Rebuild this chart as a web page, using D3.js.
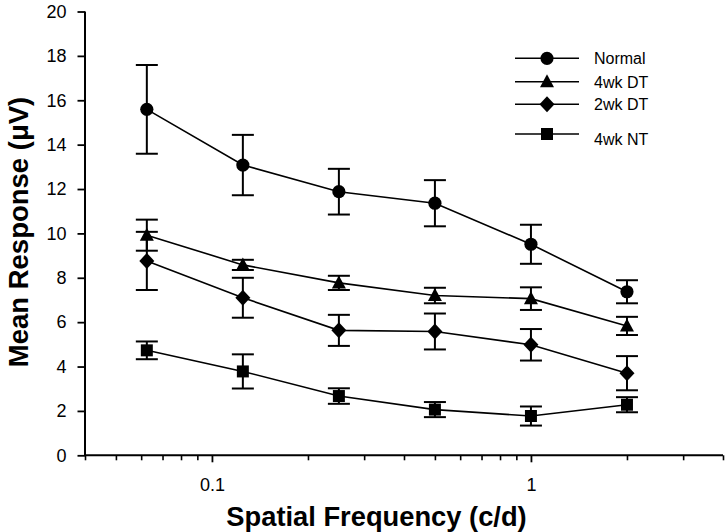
<!DOCTYPE html>
<html>
<head>
<meta charset="utf-8">
<script src="https://cdn.jsdelivr.net/npm/d3@7"></script>
<style>
  html, body { margin: 0; padding: 0; background: #fff; }
  svg { display: block; font-family: "Liberation Sans", Arial, sans-serif; }
</style>
</head>
<body>
<svg id="chart" width="725" height="532"></svg>
<script>
// ---- data ----
const frequencies = [0.0625, 0.125, 0.25, 0.5, 1, 2];
const seriesNames = ["Normal", "4wk DT", "2wk DT", "4wk NT"];
const normalMean = [15.59, 13.08, 11.88, 11.36, 9.51, 7.37];
const normalErr  = [2.0, 1.36, 1.03, 1.04, 0.88, 0.52];
const dt4Mean = [9.92, 8.58, 7.77, 7.2, 7.06, 5.83];
const dt4Err  = [0.7, 0.23, 0.32, 0.35, 0.51, 0.41];
const dt2Mean = [8.76, 7.1, 5.63, 5.58, 4.98, 3.7];
const dt2Err  = [1.31, 0.9, 0.7, 0.81, 0.71, 0.77];
const nt4Mean = [4.73, 3.78, 2.67, 2.06, 1.77, 2.28];
const nt4Err  = [0.4, 0.77, 0.35, 0.34, 0.43, 0.34];
const yTicks = [0, 2, 4, 6, 8, 10, 12, 14, 16, 18, 20];
const xMajorTicks = [0.1, 1];
const xMinorTicks = [0.04, 0.05, 0.06, 0.07, 0.08, 0.09, 0.2, 0.3, 0.4, 0.5, 0.6, 0.7, 0.8, 0.9, 2, 3, 4];
const xLabel = "Spatial Frequency (c/d)";
const yLabel = "Mean Response (\u03BCV)";

const series = [
  {name: seriesNames[0], mean: normalMean, err: normalErr, shape: "circle"},
  {name: seriesNames[1], mean: dt4Mean, err: dt4Err, shape: "triangle"},
  {name: seriesNames[2], mean: dt2Mean, err: dt2Err, shape: "diamond"},
  {name: seriesNames[3], mean: nt4Mean, err: nt4Err, shape: "square"}
];

(function () {
// ---- layout ----
const svg = d3.select("#chart");
const L = 85, R = 723, T = 11.5, B = 455.3;
const x = d3.scaleLog().domain([0.04, 4]).range([L, R]);
const y = d3.scaleLinear().domain([0, 20]).range([B, T]);

function markerPath(shape) {
  switch (shape) {
    case "circle": return "M6.6,0A6.6,6.6 0 1,1 -6.6,0A6.6,6.6 0 1,1 6.6,0Z";
    case "triangle": return "M0,-7.5L7,5.5L-7,5.5Z";
    case "diamond": return "M0,-8L7.5,0L0,8L-7.5,0Z";
    case "square": return "M-6,-6H6V6H-6Z";
  }
}

// axes
const yAxis = d3.axisLeft(y).tickValues(yTicks).tickSize(7.5).tickPadding(11).tickFormat(d3.format("d"));
const gy = svg.append("g").attr("transform", `translate(${L},0)`).call(yAxis);
gy.select(".domain").attr("stroke-width", 2).attr("d", `M0,${T}V${B}`);
gy.selectAll(".tick line").attr("stroke-width", 1.8);
gy.selectAll(".tick text").attr("font-size", 18).attr("fill", "#000");

const xAxisMinor = d3.axisBottom(x).tickValues(xMinorTicks).tickSize(5).tickFormat("");
const gxm = svg.append("g").attr("transform", `translate(0,${B})`).call(xAxisMinor);
gxm.select(".domain").attr("stroke-width", 2).attr("d", `M${L},0H${R}`);
gxm.selectAll(".tick line").attr("stroke-width", 1.6);

const xAxisMajor = d3.axisBottom(x).tickValues(xMajorTicks).tickSize(7).tickPadding(16)
  .tickFormat(d => d === 1 ? "1" : "0.1");
const gx = svg.append("g").attr("transform", `translate(0,${B})`).call(xAxisMajor);
gx.select(".domain").remove();
gx.selectAll(".tick line").attr("stroke-width", 1.8);
gx.selectAll(".tick text").attr("font-size", 18).attr("fill", "#000");

// axis titles
svg.append("text").attr("x", 376.5).attr("y", 526)
  .attr("text-anchor", "middle").attr("font-size", 27.3).attr("font-weight", "bold")
  .text(xLabel);
svg.append("text").attr("transform", `translate(27.5,232) rotate(-90)`)
  .attr("text-anchor", "middle").attr("font-size", 27.5).attr("font-weight", "bold")
  .text(yLabel);

// series
const line = d3.line().x(d => x(d.f)).y(d => y(d.v));
series.forEach(s => {
  const pts = frequencies.map((f, i) => ({f, v: s.mean[i], e: s.err[i]}));
  const g = svg.append("g");
  g.append("path").datum(pts).attr("d", line).attr("fill", "none")
    .attr("stroke", "#000").attr("stroke-width", 1.6);
  const eb = g.selectAll(".eb").data(pts).enter().append("g");
  eb.append("line").attr("x1", d => x(d.f)).attr("x2", d => x(d.f))
    .attr("y1", d => y(d.v + d.e)).attr("y2", d => y(d.v - d.e))
    .attr("stroke", "#000").attr("stroke-width", 2);
  [1, -1].forEach(sg => {
    eb.append("line").attr("x1", d => x(d.f) - 11).attr("x2", d => x(d.f) + 11)
      .attr("y1", d => y(d.v + sg * d.e)).attr("y2", d => y(d.v + sg * d.e))
      .attr("stroke", "#000").attr("stroke-width", 2);
  });
  g.selectAll(".m").data(pts).enter().append("path")
    .attr("d", markerPath(s.shape))
    .attr("transform", d => `translate(${x(d.f)},${y(d.v)})`)
    .attr("fill", "#000");
});

// legend
const legendRows = [58.3, 81.7, 104.3, 134];
const legendTextDy = [0, 0, 0, 5];
const lg = svg.append("g");
series.forEach((s, i) => {
  const ly = legendRows[i];
  lg.append("line").attr("x1", 515).attr("x2", 579).attr("y1", ly).attr("y2", ly)
    .attr("stroke", "#000").attr("stroke-width", 1.6);
  lg.append("path").attr("d", markerPath(s.shape))
    .attr("transform", `translate(547,${ly})`).attr("fill", "#000");
  lg.append("text").attr("x", 594).attr("y", ly + legendTextDy[i] + 5.8)
    .attr("font-size", 16).attr("fill", "#000").text(s.name);
});
})();
</script>
</body>
</html>
